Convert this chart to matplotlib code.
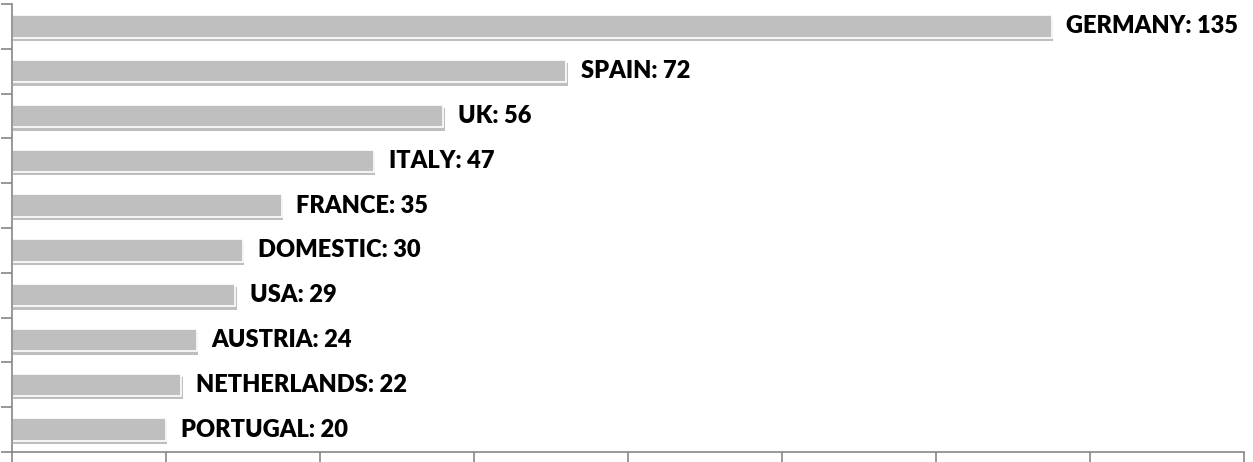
import matplotlib.pyplot as plt
import matplotlib.patheffects as pe

countries = ["GERMANY", "SPAIN", "UK", "ITALY", "FRANCE", "DOMESTIC",
             "USA", "AUSTRIA", "NETHERLANDS", "PORTUGAL"]
values = [135, 72, 56, 47, 35, 30, 29, 24, 22, 20]

plt.rcParams['font.family'] = ['Lato', 'DejaVu Sans']

fig = plt.figure(figsize=(12.53, 4.62), dpi=100)
ax = fig.add_axes([12 / 1253, 10 / 462, 1232 / 1253, 448 / 462])

pos = list(range(len(countries)))[::-1]
bars = ax.barh(pos, values, height=0.5, color="#bfbfbf",
               edgecolor="white", linewidth=1.2)
for b in bars:
    b.set_path_effects([pe.SimplePatchShadow(offset=(1.0, -2.5), shadow_rgbFace="#8a8a8a", alpha=0.55),
                        pe.Normal()])

for p, c, v in zip(pos, countries, values):
    ax.text(v + 1.9, p, f"{c}: {v}", va="center", ha="left",
            fontsize=17, fontweight="heavy", color="black")

ax.set_xlim(0, 160)
ax.set_ylim(-0.5, len(countries) - 0.5)
ax.set_xticks(range(0, 161, 20))
ax.set_yticks([i - 0.5 for i in range(len(countries) + 1)])
ax.set_xticklabels([])
ax.set_yticklabels([])
ax.tick_params(direction="out", length=8, width=1.2, color="#868686")
for s in ["top", "right"]:
    ax.spines[s].set_visible(False)
for s in ["left", "bottom"]:
    ax.spines[s].set_color("#868686")
    ax.spines[s].set_linewidth(1.2)

fig.savefig("out.png", dpi=100)
